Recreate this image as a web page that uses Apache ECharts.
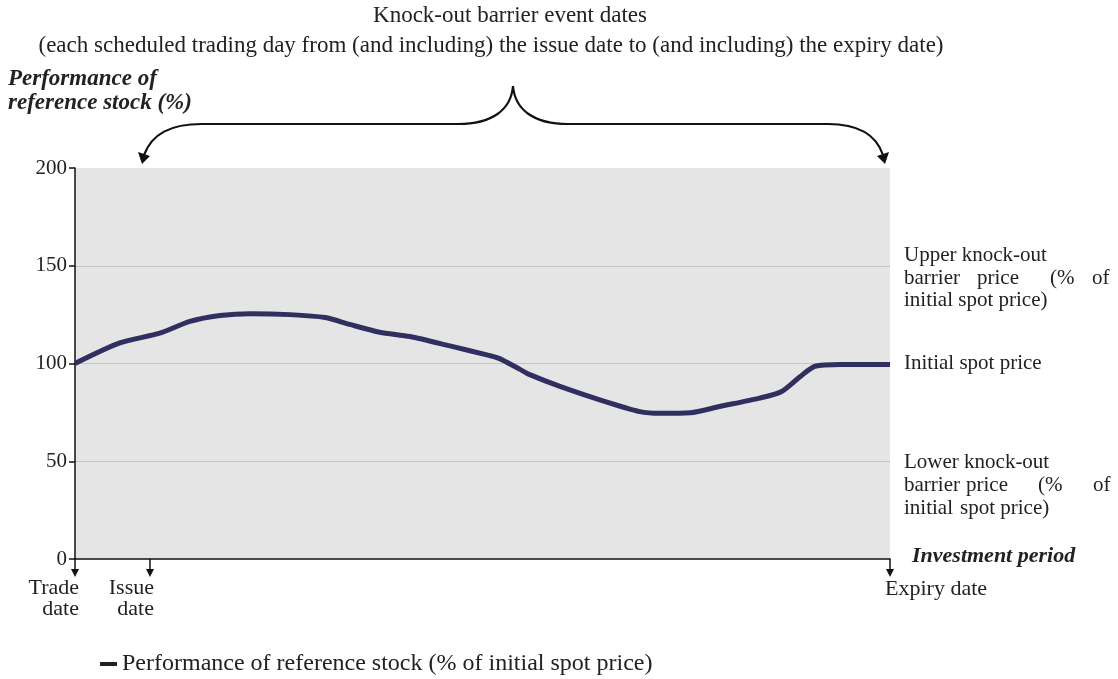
<!DOCTYPE html>
<html><head><meta charset="utf-8">
<script src="https://cdn.jsdelivr.net/npm/echarts@6/dist/echarts.min.js"></script>
<style>html,body{margin:0;padding:0;background:#fff}#c{width:1118px;height:679px}</style>
</head><body><div id="c"></div>
<script>
// ---- data ----
const seriesName = 'Performance of reference stock (% of initial spot price)';
const xValues = [0, 5.5, 10.4, 14.1, 17.8, 21.5, 26.4, 30.7, 33.7, 37.4, 41.1, 46, 50.9, 52.1, 54.6, 55.8, 59.5, 64.4, 69.3, 71.8, 75.5, 79.1, 84, 86.7, 89, 90.8, 93.9, 100];
const perfValues = [100, 110.5, 115.5, 121.5, 124.5, 125.5, 125, 123.5, 120, 116, 113.8, 109, 104, 102.5, 97, 94.3, 88.3, 81.4, 75.4, 74.5, 74.8, 78, 82.3, 85.7, 93.4, 98.6, 99.5, 99.5];
const yMin = 0, yMax = 200, yStep = 50;
const eventNames = ['Trade\ndate', 'Issue\ndate', 'Expiry date'];
const eventX = [0, 9.2, 100];
const titleLines = ['Knock-out barrier event dates', '(each scheduled trading day from (and including) the issue date to (and including) the expiry date)'];
const yTitleLines = ['Performance of', 'reference stock (%)'];
const xTitle = 'Investment period';

const FONT = "'Liberation Serif','Times New Roman',serif";
const chart = echarts.init(document.getElementById('c'), null, {renderer: 'canvas'});

const GRID = {left: 75, right: 228, top: 168, bottom: 120};

chart.setOption({
  animation: false,
  backgroundColor: '#fff',
  textStyle: {fontFamily: FONT},
  grid: {left: GRID.left, right: GRID.right, top: GRID.top, bottom: GRID.bottom, show: true, backgroundColor: '#e5e5e5', borderWidth: 0, containLabel: false},
  legend: {
    left: 95, top: 647, itemWidth: 17, itemHeight: 4, icon: 'rect',
    data: [{name: seriesName, itemStyle: {color: '#222'}}],
    textStyle: {fontFamily: FONT, fontSize: 24, color: '#222'}
  },
  xAxis: {
    type: 'value', min: 0, max: 100,
    axisLine: {show: true, lineStyle: {color: '#111', width: 1.5}},
    axisTick: {show: false}, axisLabel: {show: false}, splitLine: {show: false}
  },
  yAxis: {
    type: 'value', min: yMin, max: yMax, interval: yStep,
    axisLine: {show: true, lineStyle: {color: '#111', width: 1.5}},
    axisTick: {show: true, length: 6, lineStyle: {color: '#111', width: 1.5}},
    axisLabel: {fontFamily: FONT, fontSize: 21, color: '#222', margin: 8},
    splitLine: {show: true, lineStyle: {color: ['rgba(0,0,0,0)', '#c4c4c4', '#c4c4c4', '#c4c4c4', 'rgba(0,0,0,0)'], width: 1}}
  },
  series: [{
    name: seriesName, type: 'line', smooth: 0.25, symbol: 'none',
    data: xValues.map((x, i) => [x, perfValues[i]]),
    lineStyle: {color: '#302f60', width: 5},
    itemStyle: {color: '#302f60'}
  }]
});

function px(x) { return chart.convertToPixel({xAxisIndex: 0}, x); }
function py(y) { return chart.convertToPixel({yAxisIndex: 0}, y); }

const g = [];
const txt = (x, y, text, opts) => g.push({type: 'text', x, y, silent: true, style: Object.assign({text, fill: '#222', font: '21px ' + FONT, textAlign: 'left', textVerticalAlign: 'middle'}, opts || {})});

// title
txt(510, 16, titleLines[0], {textAlign: 'center', font: '23px ' + FONT});
txt(491, 46, titleLines[1], {textAlign: 'center', font: '23px ' + FONT});
// y title
txt(8, 79, yTitleLines[0], {font: 'italic bold 23px ' + FONT});
txt(8, 103, yTitleLines[1], {font: 'italic bold 23px ' + FONT});
// x title
const y0 = py(0);
txt(912, y0 - 3, xTitle, {font: 'italic bold 22px ' + FONT});

// event arrows & labels
eventX.forEach((xv, i) => {
  const X = px(xv);
  g.push({type: 'line', silent: true, shape: {x1: X, y1: y0, x2: X, y2: y0 + 12}, style: {stroke: '#111', lineWidth: 1.5}});
  g.push({type: 'polygon', silent: true, shape: {points: [[X - 4, y0 + 10], [X + 4, y0 + 10], [X, y0 + 18]]}, style: {fill: '#111'}});
  const lines = eventNames[i].split('\n');
  if (lines.length === 2) {
    txt(X + 4, y0 + 29, lines[0], {textAlign: 'right', font: '22px ' + FONT});
    txt(X + 4, y0 + 50, lines[1], {textAlign: 'right', font: '22px ' + FONT});
  } else {
    txt(X - 5, y0 + 30, lines[0], {textAlign: 'left', font: '22px ' + FONT});
  }
});

// right-side notes (justified word placement)
const note = (y, words) => words.forEach(w => txt(w[0], y, w[1]));
note(255, [[904, 'Upper knock-out']]);
note(278, [[904, 'barrier'], [977, 'price'], [1050, '(%'], [1092, 'of']]);
note(300, [[904, 'initial spot price)']]);
note(363, [[904, 'Initial spot price']]);
note(462, [[904, 'Lower knock-out']]);
note(485, [[904, 'barrier'], [966, 'price'], [1038, '(%'], [1093, 'of']]);
note(508, [[904, 'initial'], [960, 'spot price)']]);

// brace with arrows
const bs = {fill: 'none', stroke: '#111', lineWidth: 2.2};
const bez = (x1, y1, c1x, c1y, c2x, c2y, x2, y2) => g.push({type: 'bezierCurve', silent: true, shape: {x1, y1, cpx1: c1x, cpy1: c1y, cpx2: c2x, cpy2: c2y, x2, y2}, style: bs});
bez(144, 155, 152, 134, 170, 124, 202, 124);
g.push({type: 'line', silent: true, shape: {x1: 202, y1: 124, x2: 458, y2: 124}, style: bs});
bez(458, 124, 492, 124, 511, 110, 513, 86);
bez(513, 86, 515, 110, 534, 124, 568, 124);
g.push({type: 'line', silent: true, shape: {x1: 568, y1: 124, x2: 828, y2: 124}, style: bs});
bez(828, 124, 858, 124, 876, 134, 883, 155);
g.push({type: 'polygon', silent: true, shape: {points: [[138, 152], [150, 156], [142, 164]]}, style: {fill: '#111'}});
g.push({type: 'polygon', silent: true, shape: {points: [[877, 156], [889, 152], [885, 164]]}, style: {fill: '#111'}});

chart.setOption({graphic: g});
</script></body></html>
